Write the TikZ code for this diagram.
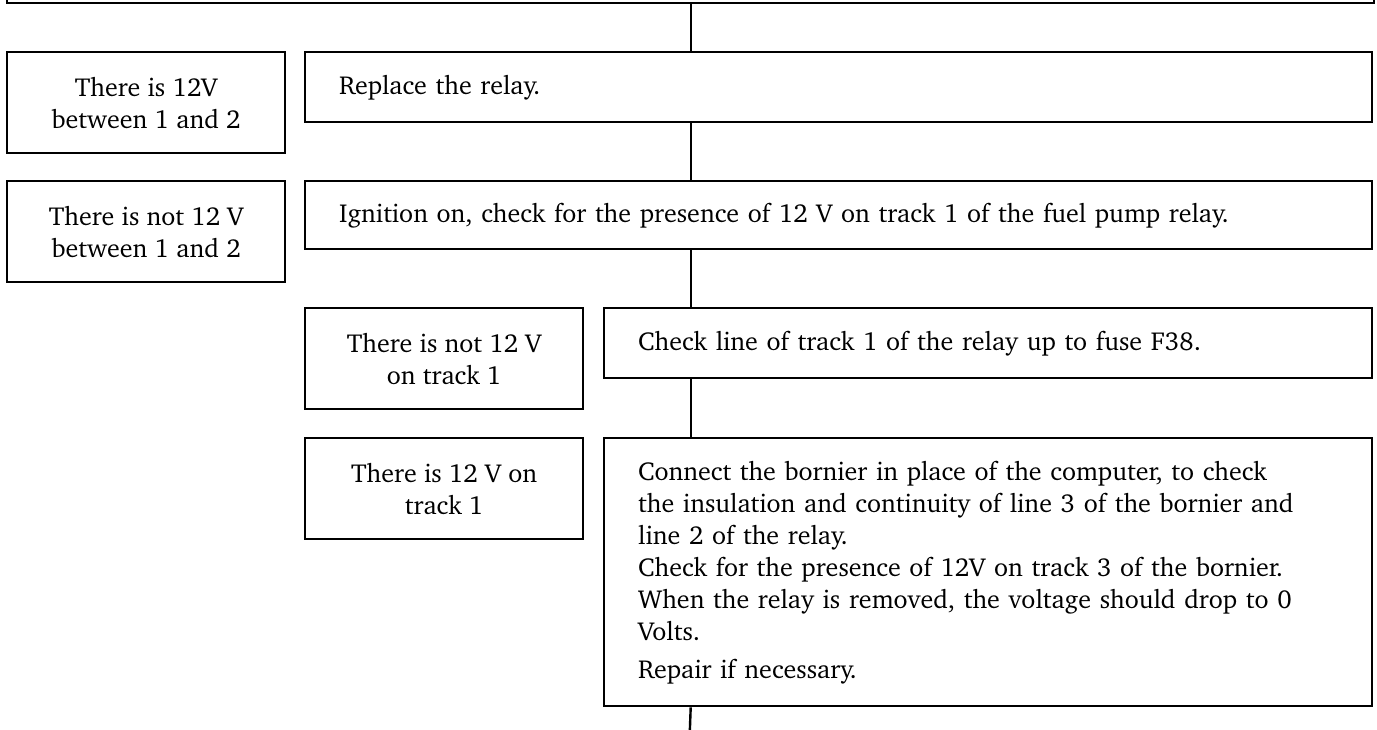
\documentclass[tikz,border=0pt]{standalone}
\usepackage[T1]{fontenc}
\usepackage{charter}
\begin{document}
\begin{tikzpicture}[
    x=0.5pt, y=-0.5pt,
    line width=1.2pt,
    txt/.style={font=\fontsize{13}{16}\selectfont},
    cond/.style={draw,txt,inner sep=0pt,minimum width=139pt,minimum height=50.5pt,align=center,anchor=north west},
    action/.style={draw,txt,inner xsep=17pt,inner ysep=0pt,text width=499.5pt,minimum height=35pt,align=left,anchor=north west}
]
\useasboundingbox (0,0) rectangle (1377,729);
\clip (0,0) rectangle (1377,729);

\node[draw,inner sep=0pt,minimum width=683.5pt,minimum height=22pt,anchor=south west] (top) at (6,4) {};

\node[cond] (c1) at (6,51) {There is 12V\\between 1 and 2};
\node[action] (a1) at (304,51) {Replace the relay.};

\node[cond] (c2) at (6,180) {There is not 12 V\\between 1 and 2};
\node[action,minimum height=34pt] (a2) at (304,180) {Ignition on, check for the presence of 12 V on track 1 of the fuel pump relay.};

\node[cond] (c3) at (304,307) {There is not 12 V\\on track 1};
\node[action,text width=350pt] (a3) at (603,307) {Check line of track 1 of the relay up to fuse F38.};

\node[cond] (c4) at (304,437) {There is 12 V on\\track 1};
\node[action,text width=350pt,minimum height=134pt] (a4) at (603,437) {Connect the bornier in place of the computer, to check\\
the insulation and continuity of line 3 of the bornier and\\
line 2 of the relay.\\
Check for the presence of 12V on track 3 of the bornier.\\
When the relay is removed, the voltage should drop to 0\\
Volts.\\[3pt]
Repair if necessary.};

\coordinate (out) at (689.5,740);

\draw (top.south) -- (top.south |- a1.north);
\draw (top.south |- a1.south) -- (top.south |- a2.north);
\draw (top.south |- a2.south) -- (top.south |- a3.north);
\draw (top.south |- a3.south) -- (top.south |- a4.north);
\draw (top.south |- a4.south) -- (out);
\end{tikzpicture}
\end{document}
